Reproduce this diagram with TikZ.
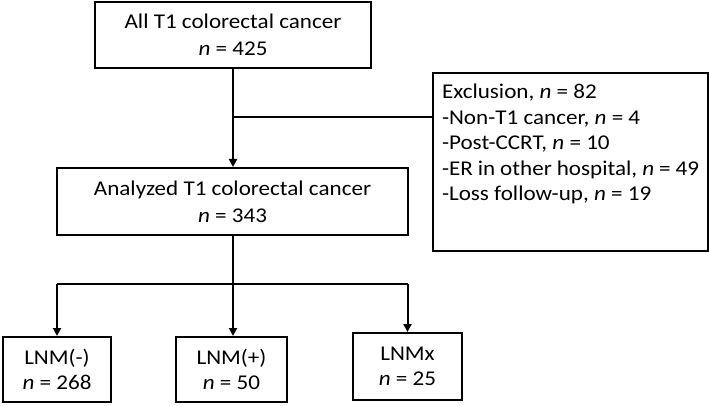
\documentclass[tikz,border=0pt]{standalone}
\usepackage{fontspec}
\setmainfont[FakeStretch=1.1]{Carlito}
\usetikzlibrary{arrows.meta}

\begin{document}
\begin{tikzpicture}[x=1pt,y=-1pt,
        flowbox/.style={draw, line width=2pt, align=center, inner sep=0pt,
            font=\fontsize{21}{27}\selectfont},
        flowline/.style={line width=2pt},
        flowarrow/.style={line width=2pt, -{Triangle[length=8pt,width=8pt]}}]
        \useasboundingbox (0,0) rectangle (709,406);

        % Riquadri
        \node[flowbox, minimum width=276pt, minimum height=66pt] (all) at (233,35) {All T1 colorectal cancer\\ \textit{n} = 425};
        \node[flowbox, minimum width=351pt, minimum height=67pt] (mid) at (232.5,201.5) {Analyzed T1 colorectal cancer\\ \textit{n} = 343};
        \node[flowbox, anchor=north west, inner xsep=9pt, inner ysep=11pt, align=left] (excl) at (432,72)
            {\parbox[t][156pt][t]{257pt}{\fontsize{21}{25.5}\selectfont Exclusion, \textit{n} = 82\\
            -Non-T1 cancer, \textit{n} = 4\\
            -Post-CCRT, \textit{n} = 10\\
            -ER in other hospital, \textit{n} = 49\\
            -Loss follow-up, \textit{n} = 19}};
        \node[flowbox, minimum width=108pt, minimum height=65pt, font=\fontsize{21}{25}\selectfont] (lnmneg) at (57,369.5) {LNM(-)\\ \textit{n} = 268};
        \node[flowbox, minimum width=111pt, minimum height=65pt, font=\fontsize{21}{25}\selectfont] (lnmpos) at (231.5,369.5) {LNM(+)\\ \textit{n} = 50};
        \node[flowbox, minimum width=109pt, minimum height=67pt, font=\fontsize{21}{25}\selectfont] (lnmx) at (407.5,366.5) {LNMx\\ \textit{n} = 25};

        % Collegamenti
        \coordinate (brk) at (233,117);
        \coordinate (split) at (233,284);
        \draw[flowarrow] (all.south) -- (all.south |- mid.north);
        \draw[flowline] (brk) -- (brk -| excl.west);
        \draw[flowline] (mid.south) -- (mid.south |- split);
        \draw[flowline] (split -| lnmneg.north) -- (split -| lnmx.north);
        \draw[flowarrow] (split -| lnmneg.north) -- (lnmneg.north);
        \draw[flowarrow] (split) -- (split |- lnmpos.north);
        \draw[flowarrow] (split -| lnmx.north) -- (lnmx.north);
\end{tikzpicture}
\end{document}
